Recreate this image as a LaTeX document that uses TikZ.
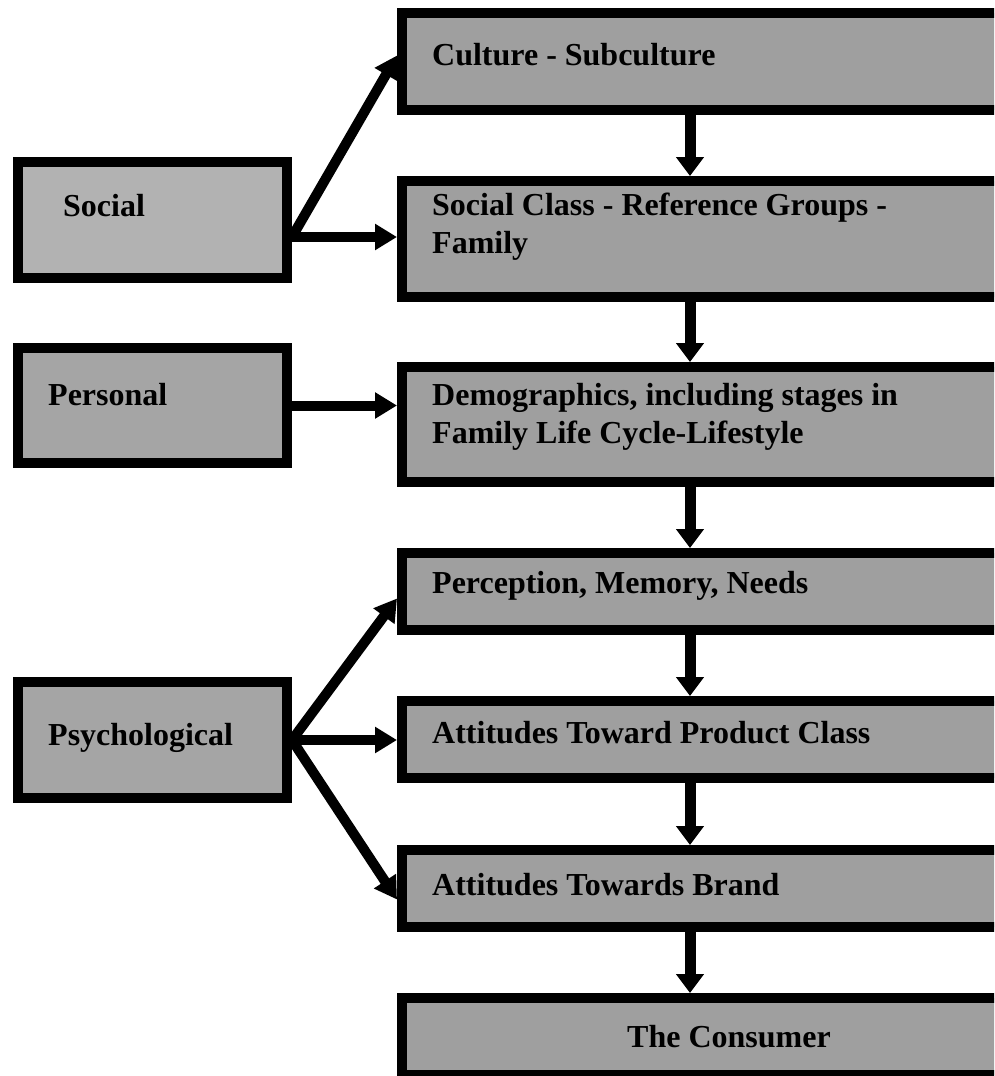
\documentclass[tikz,border=0pt]{standalone}
\usepackage{fontspec}
\setmainfont{Liberation Serif}
\usetikzlibrary{arrows.meta}
\definecolor{socialfill}{HTML}{B2B2B2}
\definecolor{leftfill}{HTML}{A5A5A5}
\definecolor{rightfill}{HTML}{9F9F9F}
\begin{document}
\begin{tikzpicture}[x=1pt,y=-1pt,
  box/.style={draw=black, line width=10pt, rectangle, inner sep=0pt},
  lbl/.style={anchor=base west, inner sep=0pt, align=left,
    font=\fontsize{32}{38}\selectfont\bfseries},
  down/.style={line width=11pt, -{Triangle[width=27pt,length=19pt]}},
  side/.style={line width=10pt, -{Triangle[width=25pt,length=22pt]}}]
\useasboundingbox (0,0) rectangle (994,1076);
\clip (0,0) rectangle (994,1076);

% left column: influence groups
\node[box, fill=socialfill, minimum width=269pt, minimum height=116pt] (social) at (152.5,220) {};
\node[box, fill=leftfill, minimum width=269pt, minimum height=115pt] (personal) at (152.5,405.5) {};
\node[box, fill=leftfill, minimum width=269pt, minimum height=116pt] (psych) at (152.5,740) {};

% right column: chain of factors
\node[box, fill=rightfill, minimum width=598pt, minimum height=97pt] (culture) at (701,61.5) {};
\node[box, fill=rightfill, minimum width=598pt, minimum height=116pt] (socclass) at (701,239) {};
\node[box, fill=rightfill, minimum width=598pt, minimum height=115pt] (demo) at (701,424.5) {};
\node[box, fill=rightfill, minimum width=598pt, minimum height=77pt] (perception) at (701,591.5) {};
\node[box, fill=rightfill, minimum width=598pt, minimum height=77pt] (product) at (701,739.5) {};
\node[box, fill=rightfill, minimum width=598pt, minimum height=77pt] (brand) at (701,888.5) {};
\node[box, fill=rightfill, minimum width=598pt, minimum height=77pt] (consumer) at (701,1036.5) {};

% labels (a two-line label sits on the baseline of its last line)
\node[lbl] (tsocial) at (63,216) {Social};
\node[lbl] (tpersonal) at (48,405) {Personal};
\node[lbl] (tpsych) at (48,745) {Psychological};
\node[lbl] (tculture) at (432,65) {Culture - Subculture};
\node[lbl] (tsocclass) at (432,253) {Social Class - Reference Groups -\\Family};
\node[lbl] (tdemo) at (432,443) {Demographics, including stages in\\Family Life Cycle-Lifestyle};
\node[lbl] (tperception) at (432,593) {Perception, Memory, Needs};
\node[lbl] (tproduct) at (432,743) {Attitudes Toward Product Class};
\node[lbl] (tbrand) at (432,895) {Attitudes Towards Brand};
\node[lbl] (tconsumer) at (627,1047) {The Consumer};

% vertical flow
\draw[down] ([xshift=-11pt]culture.south) -- ([xshift=-11pt]socclass.north);
\draw[down] ([xshift=-11pt]socclass.south) -- ([xshift=-11pt]demo.north);
\draw[down] ([xshift=-11pt]demo.south) -- ([xshift=-11pt]perception.north);
\draw[down] ([xshift=-11pt]perception.south) -- ([xshift=-11pt]product.north);
\draw[down] ([xshift=-11pt]product.south) -- ([xshift=-11pt]brand.north);
\draw[down] ([xshift=-11pt]brand.south) -- ([xshift=-11pt]consumer.north);

% influences from the left
\draw[side] ([yshift=-17pt]social.east) -- ([yshift=-17pt]social.east -| socclass.west);
\draw[side] ([yshift=-17pt]social.east) -- ([yshift=6pt]culture.west);
\draw[side] (personal.east) -- (personal.east -| demo.west);
\draw[side] (psych.east) -- (psych.east -| product.west);
\draw[side] (psych.east) -- ([yshift=-7pt]perception.west);
\draw[side] (psych.east) -- ([yshift=-11pt]brand.west);
\end{tikzpicture}
\end{document}
